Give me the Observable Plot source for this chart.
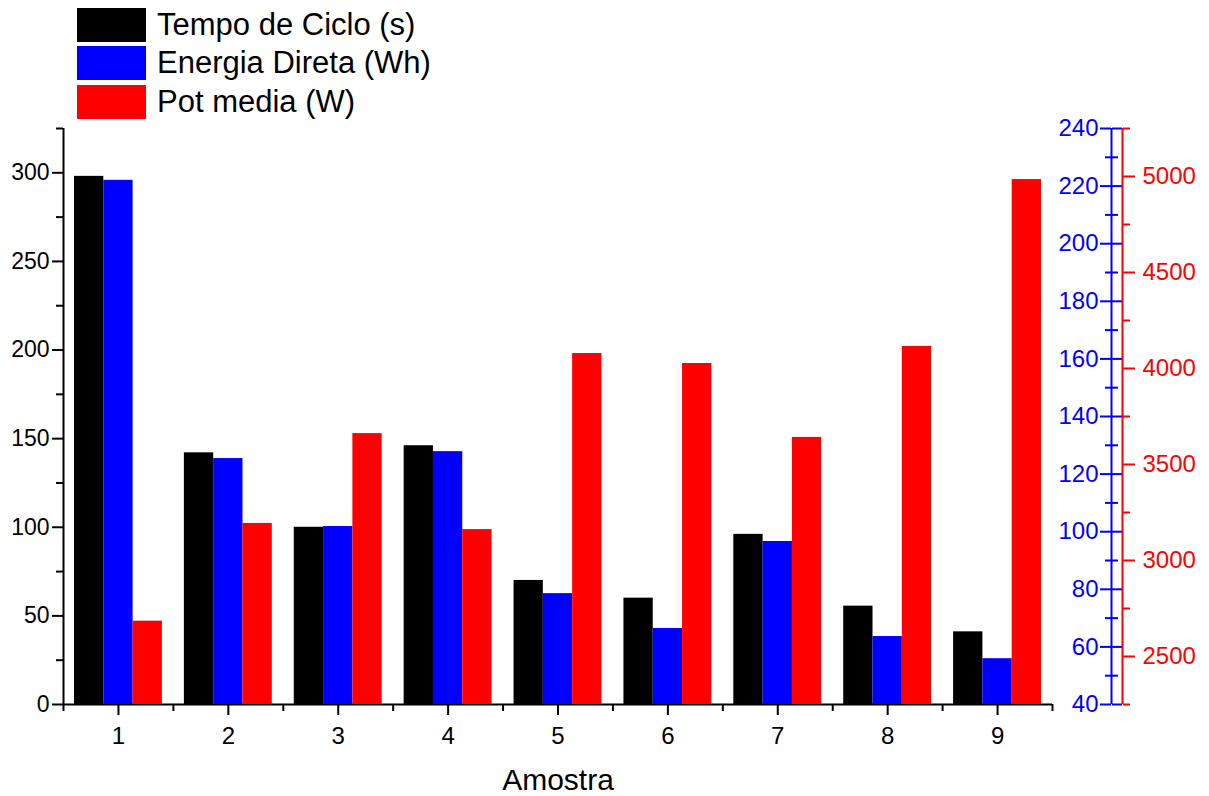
<!DOCTYPE html>
<html>
<head>
<meta charset="utf-8">
<script src="https://cdn.jsdelivr.net/npm/d3@7"></script>
<script src="https://cdn.jsdelivr.net/npm/@observablehq/plot@0.6"></script>
<style>
  body { margin: 0; background: #fff; font-family: "Liberation Sans", Arial, sans-serif; }
  #wrap { position: relative; width: 1209px; height: 796px; overflow: hidden; }
  #wrap svg { position: absolute; left: 0; top: 0; }
  #legend { position: absolute; left: 77px; top: 8px; }
  .item { position: relative; height: 38.4px; }
  .sw { position: absolute; left: 0; top: 0; width: 69px; height: 34px; }
  .lab { position: absolute; left: 80px; top: -3px; font-size: 31px; line-height: 40px; color: #000; white-space: nowrap; }
</style>
</head>
<body>
<div id="wrap"><div id="legend"></div></div>
<script>
// ---- data ----
const amostras = [1, 2, 3, 4, 5, 6, 7, 8, 9];
const tempoCiclo = [298, 142, 100, 146, 70, 60, 96, 55.5, 41];          // left axis (s)
const energiaDireta = [222, 125.4, 101.8, 127.8, 78.5, 66.4, 96.6, 63.6, 55.9]; // blue axis (Wh)
const potMedia = [2684, 3193, 3661, 3161, 4078, 4026, 3641, 4115, 4984];  // red axis (W)
const seriesNames = ["Tempo de Ciclo (s)", "Energia Direta (Wh)", "Pot media (W)"];
const seriesColors = ["#000000", "#0000ff", "#ff0000"];
const xLabel = "Amostra";
const leftTicks = [0, 50, 100, 150, 200, 250, 300];
const leftMinor = [25, 75, 125, 175, 225, 275, 325];
const blueTicks = [40, 60, 80, 100, 120, 140, 160, 180, 200, 220, 240];
const blueMinor = [50, 70, 90, 110, 130, 150, 170, 190, 210, 230];
const redTicks = [2500, 3000, 3500, 4000, 4500, 5000];
const redMinor = [2250, 2750, 3250, 3750, 4250, 4750, 5250];
const xMinor = [0.5, 1.5, 2.5, 3.5, 4.5, 5.5, 6.5, 7.5, 8.5, 9.5];
const leftDomain = [0, 325];
const blueDomain = [40, 240];
const redDomain = [2250, 5250];

// ---- layout ----
const W = 1209, H = 796;
const xDomain = [0.5, 9.5];
const groupWidth = 0.8;
const barW = groupWidth / 3;
const font = "Liberation Sans, Arial, sans-serif";
const common = {
  width: W, height: H,
  marginLeft: 63, marginRight: 157, marginTop: 128, marginBottom: 92,
  style: { background: "transparent", fontFamily: font, color: "#000", overflow: "visible" }
};

function barsFor(values, s, base) {
  return amostras.map((a, i) => ({
    x1: a + (s - 1.5) * barW,
    x2: a + (s - 0.5) * barW,
    y1: base,
    y2: values[i]
  }));
}

const noText = () => "";
const plain = (d) => String(d);

// main plot: black bars, left axis, x axis
const mainPlot = Plot.plot({
  ...common,
  x: { domain: xDomain },
  y: { domain: leftDomain },
  marks: [
    Plot.rect(barsFor(tempoCiclo, 0, leftDomain[0]), { x1: "x1", x2: "x2", y1: "y1", y2: "y2", fill: seriesColors[0] }),
    Plot.ruleX([xDomain[0]], { y1: leftDomain[0], y2: leftDomain[1], stroke: "#000", strokeWidth: 2 }),
    Plot.ruleY([leftDomain[0]], { x1: xDomain[0], x2: xDomain[1], stroke: "#000", strokeWidth: 2 }),
    Plot.axisY(leftTicks, { anchor: "left", tickSize: 11, tickPadding: 3, fontSize: 23, strokeWidth: 2, tickFormat: plain, label: null }),
    Plot.axisY(leftMinor, { anchor: "left", tickSize: 7, strokeWidth: 2, tickFormat: noText, label: null }),
    Plot.axisX(amostras, { anchor: "bottom", tickSize: 11, tickPadding: 11, fontSize: 24, strokeWidth: 2, tickFormat: plain, label: null }),
    Plot.axisX(xMinor, { anchor: "bottom", tickSize: 7, strokeWidth: 2, tickFormat: noText, label: null }),
    Plot.text([xLabel], { frameAnchor: "bottom", dy: 85, lineAnchor: "bottom", fontSize: 30, fill: "#000" })
  ]
});

// blue overlay
const blueOffset = 59;   // blue axis line distance right of frame
const bluePlot = Plot.plot({
  ...common,
  x: { domain: xDomain, axis: null },
  y: { domain: blueDomain },
  marks: [
    Plot.rect(barsFor(energiaDireta, 1, blueDomain[0]), { x1: "x1", x2: "x2", y1: "y1", y2: "y2", fill: seriesColors[1] }),
    Plot.ruleX([xDomain[1]], { y1: blueDomain[0], y2: blueDomain[1], dx: blueOffset, stroke: seriesColors[1], strokeWidth: 2 }),
    Plot.axisY(blueTicks, { anchor: "left", dx: (W - 157 - 63) + blueOffset, tickSize: 11, tickPadding: 2, fontSize: 24, strokeWidth: 2, color: seriesColors[1], tickFormat: plain, label: null }),
    Plot.axisY(blueTicks, { anchor: "right", dx: blueOffset, tickSize: 10, strokeWidth: 2, color: seriesColors[1], tickFormat: noText, label: null }),
    Plot.axisY(blueMinor, { anchor: "left", dx: (W - 157 - 63) + blueOffset, tickSize: 6, strokeWidth: 2, color: seriesColors[1], tickFormat: noText, label: null }),
    Plot.axisY(blueMinor, { anchor: "right", dx: blueOffset, tickSize: 6, strokeWidth: 2, color: seriesColors[1], tickFormat: noText, label: null })
  ]
});

// red overlay
const redOffset = 70;
const redPlot = Plot.plot({
  ...common,
  x: { domain: xDomain, axis: null },
  y: { domain: redDomain },
  marks: [
    Plot.rect(barsFor(potMedia, 2, redDomain[0]), { x1: "x1", x2: "x2", y1: "y1", y2: "y2", fill: seriesColors[2] }),
    Plot.ruleX([xDomain[1]], { y1: redDomain[0], y2: redDomain[1], dx: redOffset, stroke: seriesColors[2], strokeWidth: 2 }),
    Plot.axisY(redTicks, { anchor: "right", dx: redOffset, tickSize: 12, tickPadding: 8, fontSize: 24, strokeWidth: 2, color: seriesColors[2], tickFormat: plain, label: null }),
    Plot.axisY(redMinor, { anchor: "right", dx: redOffset, tickSize: 7, strokeWidth: 2, color: seriesColors[2], tickFormat: noText, label: null })
  ]
});

const wrap = document.getElementById("wrap");
wrap.insertBefore(redPlot, wrap.firstChild);
wrap.insertBefore(bluePlot, wrap.firstChild);
wrap.insertBefore(mainPlot, wrap.firstChild);

// legend
const legend = document.getElementById("legend");
seriesNames.forEach((name, i) => {
  const item = document.createElement("div");
  item.className = "item";
  const sw = document.createElement("div");
  sw.className = "sw";
  sw.style.background = seriesColors[i];
  const lab = document.createElement("div");
  lab.className = "lab";
  lab.textContent = name;
  item.appendChild(sw);
  item.appendChild(lab);
  legend.appendChild(item);
});
</script>
</body>
</html>
